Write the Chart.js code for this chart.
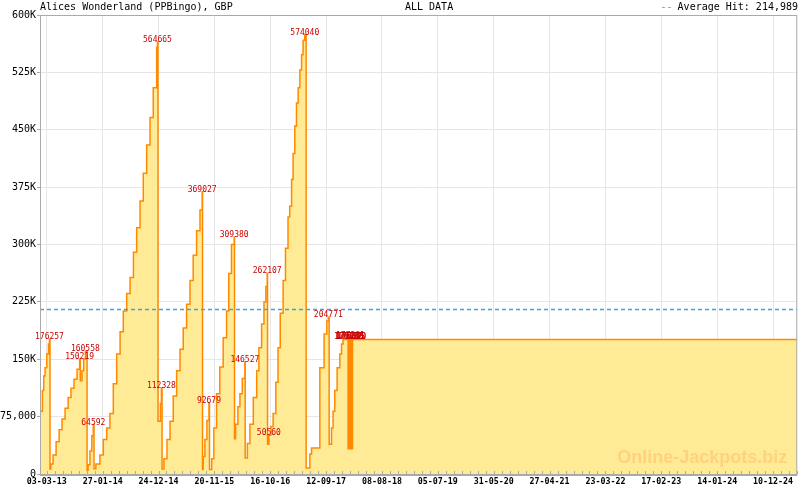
<!DOCTYPE html>
<html>
<head>
<meta charset="utf-8">
<title>Alices Wonderland (PPBingo)</title>
<script src="https://cdn.jsdelivr.net/npm/chart.js@4.4.0/dist/chart.umd.min.js"></script>
<style>
  html, body { margin: 0; padding: 0; background: #fff; }
</style>
</head>
<body>
<canvas id="jackpotChart" width="800" height="490"></canvas>
<script>
const title = 'Alices Wonderland (PPBingo), GBP';
const period = 'ALL DATA';
const averageHit = 214989;

// x values are days since 03-03-13
const days = [
  -38, -26, -18, -10, 0, 10, 16, 19, 24, 37, 55, 73, 90, 108, 126, 143, 161, 179,
  194, 198, 208, 218, 228, 238, 244, 255, 266, 275, 279, 290, 314, 334, 354, 373,
  393, 413, 433, 452, 472, 492, 512, 531, 551, 570, 590, 610, 629, 649, 654, 657,
  671, 677, 681, 692, 710, 728, 747, 767, 787, 806, 826, 846, 865, 885, 905, 918,
  920, 924, 934, 946, 958, 961, 974, 987, 1003, 1022, 1042, 1062, 1075, 1091, 1107,
  1109, 1115, 1129, 1141, 1155, 1170, 1172, 1185, 1200, 1220, 1240, 1253, 1269,
  1283, 1294, 1302, 1304, 1312, 1324, 1337, 1353, 1366, 1379, 1396, 1410, 1425,
  1435, 1446, 1455, 1465, 1475, 1485, 1495, 1505, 1514, 1524, 1532, 1554, 1564,
  1613, 1638, 1654, 1663, 1668, 1682, 1691, 1701, 1715, 1731, 1741, 1750,
  1780, 1782, 1784, 1786, 1788, 1790, 1792, 1794, 1796, 1798, 1800, 1802, 1804, 1806,
  4433
];
const jackpot = [
  82000, 109000, 128000, 139000, 157000, 170000, 176257, 6500, 13000, 25000, 42000,
  58000, 72000, 86000, 100000, 112000, 124000, 137000,
  150219, 122000, 135000, 150000, 160558, 5000, 12000, 30000, 50000, 64592, 7000,
  13000, 25000, 45000, 60000, 79000,
  118000, 157000, 186000, 213000, 236000, 257000, 290000, 322000, 357000, 393000,
  430000, 466000, 505000, 558000, 564665, 69000,
  92000, 112328, 6500, 20000, 45000, 69000, 102000, 135000, 163000, 191000, 222000,
  253000, 286000, 318000, 345000, 369027,
  6000, 23000, 45000, 70000, 92679, 6000, 20000, 60000, 105000, 140000, 178000,
  213000, 262000, 300000, 309380,
  46000, 65000, 88000, 105000, 125000, 146527, 21000, 40000, 65000, 100000, 135000,
  165000, 196000,
  225000, 245000, 262107, 39000, 50560, 62000, 79000, 120000, 165000, 210000,
  253000, 295000, 336000,
  350000, 385000, 419000, 455000, 485000, 505000, 528000, 548000, 567000, 574040,
  8000, 26000, 34000,
  139000, 183000, 200000, 204771, 39000, 60000, 82000, 109000, 139000, 157000,
  170000, 175800,
  33000, 176412, 33000, 177038, 33000, 176705, 33000, 177281, 33000, 176893,
  33000, 176120, 33000, 175800,
  175800
];

// hits that get a value label
const hitDays = [16, 194, 228, 275, 654, 677, 918, 958, 1107, 1170, 1302, 1312,
  1524, 1663, 1782, 1786, 1790, 1794, 1798, 1802];
const hitValues = [176257, 150219, 160558, 64592, 564665, 112328, 369027, 92679,
  309380, 146527, 262107, 50560, 574040, 204771, 176412, 177038, 176705, 177281,
  176893, 176120];

const xRange = [-40, 4433];
const xLabelStep = 330;   // days between dated ticks
const xMinorPerLabel = 7;
const xTickLabels = ['03-03-13', '27-01-14', '24-12-14', '20-11-15', '16-10-16',
  '12-09-17', '08-08-18', '05-07-19', '31-05-20', '27-04-21', '23-03-22',
  '17-02-23', '14-01-24', '10-12-24'];
const yTickLabels = ['0', '75,000', '150K', '225K', '300K', '375K', '450K', '525K', '600K'];

const mono = "'DejaVu Sans Mono', monospace";
const avgColor = '#3aa6e4';

const decor = {
  id: 'decor',
  afterDatasetsDraw(chart) {
    const {ctx, chartArea: a, scales: {x, y}} = chart;
    ctx.save();

    ctx.font = "bold 18px 'Liberation Sans', Arial, sans-serif";
    ctx.fillStyle = '#ffd27e';
    ctx.textAlign = 'right';
    ctx.textBaseline = 'middle';
    ctx.fillText('Online-Jackpots.biz', a.right - 10, a.bottom - 16);

    ctx.font = '8px ' + mono;
    ctx.fillStyle = '#cc0000';
    ctx.textAlign = 'center';
    ctx.textBaseline = 'alphabetic';
    hitDays.forEach((d, i) => {
      ctx.fillText(String(hitValues[i]), x.getPixelForValue(d), y.getPixelForValue(hitValues[i]));
    });

    // frame + short ticks inside the plot
    ctx.strokeStyle = '#aaaaaa';
    ctx.lineWidth = 1;
    ctx.strokeRect(a.left + 0.5, a.top + 0.5, a.right - a.left - 1, a.bottom - a.top);
    ctx.beginPath();
    x.ticks.forEach(t => {
      const px = Math.round(x.getPixelForValue(t.value)) + 0.5;
      ctx.moveTo(px, a.bottom);
      ctx.lineTo(px, a.bottom - 3);
    });
    ctx.stroke();
    ctx.lineWidth = 2;
    ctx.beginPath();
    ctx.moveTo(a.left, a.bottom + 1);
    ctx.lineTo(a.right, a.bottom + 1);
    ctx.stroke();
    ctx.restore();
  },
  afterDraw(chart) {
    const {ctx} = chart;
    ctx.save();
    ctx.font = '10px ' + mono;
    ctx.textBaseline = 'alphabetic';
    ctx.fillStyle = '#000';
    ctx.textAlign = 'left';
    ctx.fillText(title, 40, 10);
    ctx.fillText(period, 405, 10);
    const avgText = 'Average Hit: ' + averageHit.toLocaleString('en-US');
    ctx.textAlign = 'right';
    ctx.fillText(avgText, 798, 10);
    const w = ctx.measureText(avgText).width;
    ctx.fillStyle = avgColor;
    ctx.fillText('--', 798 - w - 5, 10);
    ctx.restore();
  }
};

new Chart(document.getElementById('jackpotChart'), {
  type: 'line',
  data: {
    datasets: [
      {
        label: 'Average Hit',
        data: xRange.map(d => ({x: d, y: averageHit})),
        borderColor: avgColor,
        borderWidth: 1.5,
        borderDash: [4, 3],
        pointRadius: 0,
        fill: false,
        order: 0
      },
      {
        label: 'Jackpot',
        data: days.map((d, i) => ({x: d, y: jackpot[i]})),
        stepped: 'before',
        borderColor: '#ff8a00',
        borderWidth: 1.5,
        backgroundColor: '#ffea96',
        fill: 'origin',
        pointRadius: 0,
        order: 1
      }
    ]
  },
  options: {
    responsive: false,
    animation: false,
    events: [],
    layout: {padding: {top: 15, right: 1, left: 0, bottom: 0}},
    plugins: {legend: {display: false}, title: {display: false}, tooltip: {enabled: false}},
    scales: {
      x: {
        type: 'linear',
        min: xRange[0],
        max: xRange[1],
        afterBuildTicks: axis => {
          const step = xLabelStep / xMinorPerLabel;
          const ticks = [];
          for (let k = 0; k * step <= xRange[1]; k++) ticks.push({value: k * step});
          axis.ticks = ticks;
        },
        afterFit: axis => { axis.height = 16; },
        border: {display: false},
        grid: {
          color: c => (c.index % xMinorPerLabel === 0 ? '#e6e6e6' : 'rgba(0,0,0,0)'),
          drawTicks: false
        },
        ticks: {
          autoSkip: false,
          maxRotation: 0,
          minRotation: 0,
          padding: 3,
          color: '#000',
          font: {family: mono, size: 8.3, weight: 'bold'},
          callback: (v, i) => (i % xMinorPerLabel === 0 ? (xTickLabels[i / xMinorPerLabel] || '') : '')
        }
      },
      y: {
        min: 0,
        max: 600000,
        afterFit: axis => { axis.width = 40; },
        border: {display: false},
        grid: {color: '#e6e6e6', tickColor: '#aaaaaa', tickLength: 3},
        ticks: {
          stepSize: 75000,
          padding: 1,
          color: '#000',
          font: {family: mono, size: 10},
          callback: v => yTickLabels[Math.round(v / 75000)]
        }
      }
    }
  },
  plugins: [decor]
});
</script>
</body>
</html>
